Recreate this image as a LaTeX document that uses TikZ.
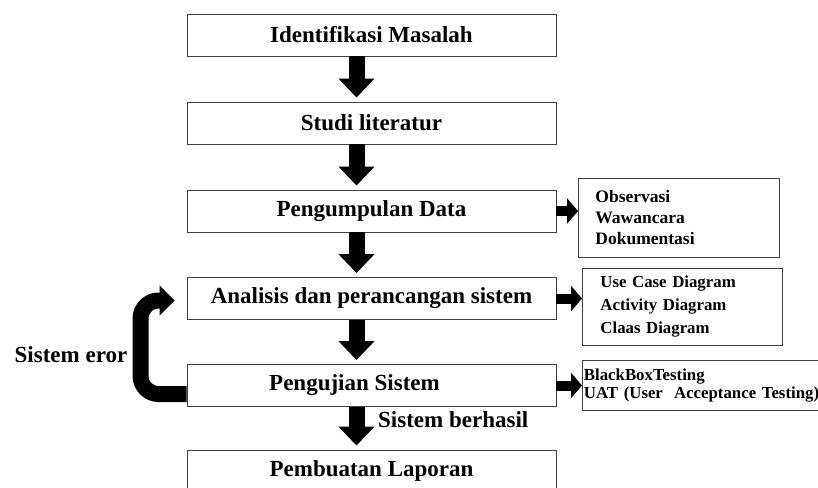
\documentclass[tikz,border=0pt]{standalone}
\usepackage{fontspec}
\setmainfont{Liberation Serif}
\usetikzlibrary{arrows.meta}

\begin{document}
\begin{tikzpicture}[x=1pt,y=-1pt]
  \tikzset{stagebox/.style={draw=black!75,line width=0.9pt,minimum width=369pt,minimum height=42pt,inner sep=0pt,font=\fontsize{23}{27}\selectfont\bfseries}}
  \tikzset{sidebox/.style={draw=black!75,line width=0.9pt,anchor=north west,align=left,inner ysep=0pt}}
  \tikzset{downarrow/.style={draw=black,line width=16pt,shorten >=4pt,-{Triangle[width=35pt,length=19pt]}}}
  \tikzset{sidearrow/.style={draw=black,line width=10pt,-{Triangle[width=25pt,length=11pt]}}}
  \tikzset{looparrow/.style={draw=black,line width=16pt,rounded corners=18pt,-{Triangle[width=29pt,length=15pt]}}}
  \tikzset{flowlabel/.style={font=\fontsize{23}{27}\selectfont\bfseries,inner sep=0pt}}
  \clip (0,0) rectangle (818,487);
  % main stages
  \node[stagebox] (identifikasi) at (371.5,35) {Identifikasi Masalah};
  \node[stagebox] (studi) at (371.5,123) {Studi literatur};
  \node[stagebox] (pengumpulan) at (371.5,211) {Pengumpulan Data};
  \node[stagebox] (analisis) at (371.5,298.5) {Analisis dan perancangan sistem};
  \node[stagebox] (pengujian) at (371.5,385.5) {Pengujian Sistem\hspace*{34pt}};
  \node[stagebox] (laporan) at (371.5,471) {Pembuatan Laporan};
  % side boxes
  \node[sidebox,inner xsep=17pt,text width=167pt,minimum height=79pt,font=\fontsize{17.5}{21}\selectfont\bfseries] (metode) at (578,178) {Observasi\\Wawancara\\Dokumentasi};
  \node[sidebox,inner xsep=18pt,text width=164pt,minimum height=77pt,font=\fontsize{16.8}{23}\selectfont\bfseries] (diagram) at (582,268) {Use Case Diagram\\Activity Diagram\\Claas Diagram};
  \node[sidebox,inner xsep=1.5pt,text width=239pt,minimum height=50pt,font=\fontsize{16.8}{18.5}\selectfont\bfseries] (testing) at (582,360) {BlackBoxTesting\\UAT (User~ Acceptance Testing)};
  % arrows
  \draw[downarrow] ([xshift=-15pt]identifikasi.south) -- ([xshift=-15pt]studi.north);
  \draw[downarrow] ([xshift=-15pt]studi.south) -- ([xshift=-15pt]pengumpulan.north);
  \draw[downarrow] ([xshift=-15pt]pengumpulan.south) -- ([xshift=-15pt]analisis.north);
  \draw[downarrow] ([xshift=-15pt]analisis.south) -- ([xshift=-15pt]pengujian.north);
  \draw[downarrow] ([xshift=-15pt]pengujian.south) -- ([xshift=-15pt]laporan.north);
  \draw[sidearrow] (pengumpulan.east) -- (pengumpulan.east -| metode.west);
  \draw[sidearrow] (analisis.east) -- (analisis.east -| diagram.west);
  \draw[sidearrow] (pengujian.east) -- (pengujian.east -| testing.west);
  % loop back
  \coordinate (errtip) at ([xshift=-12pt,yshift=-2pt]analisis.west);
  \draw[looparrow] ([yshift=-8.5pt]pengujian.west) -- ++(-46,0) |- (errtip);
  \node[flowlabel] (eror) at (71,355) {Sistem eror};
  \node[flowlabel,anchor=west] (berhasil) at (378,420) {Sistem berhasil};
\end{tikzpicture}
\end{document}
